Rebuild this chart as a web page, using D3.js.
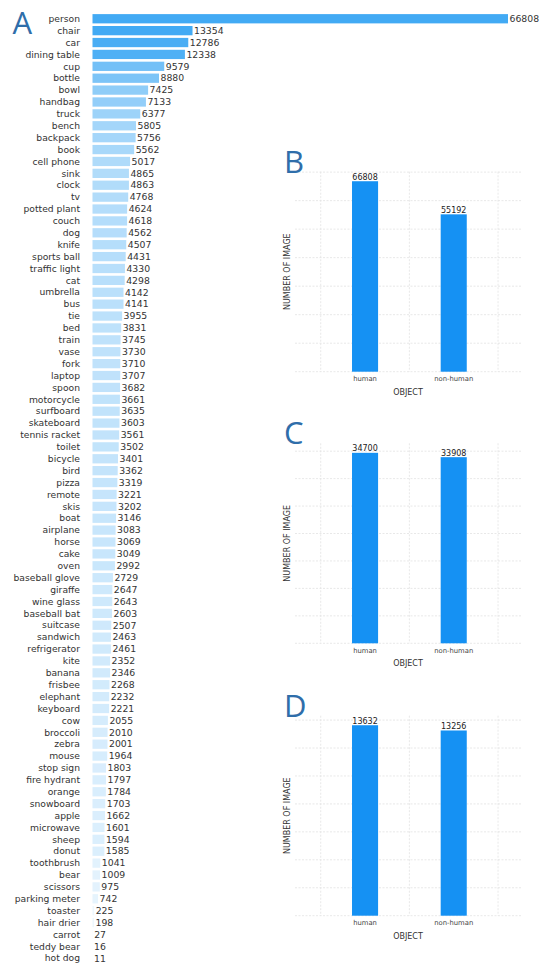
<!DOCTYPE html>
<html>
<head>
<meta charset="utf-8">
<script src="https://cdn.jsdelivr.net/npm/d3@7"></script>
<style>
  html, body { margin: 0; padding: 0; background: #fff; }
  svg { display: block; }
</style>
</head>
<body>
<svg id="chart" width="544" height="965"></svg>
<script>
// Object categories and their instance counts
const categories = ["person","chair","car","dining table","cup","bottle","bowl","handbag","truck","bench",
  "backpack","book","cell phone","sink","clock","tv","potted plant","couch","dog","knife",
  "sports ball","traffic light","cat","umbrella","bus","tie","bed","train","vase","fork",
  "laptop","spoon","motorcycle","surfboard","skateboard","tennis racket","toilet","bicycle","bird","pizza",
  "remote","skis","boat","airplane","horse","cake","oven","baseball glove","giraffe","wine glass",
  "baseball bat","suitcase","sandwich","refrigerator","kite","banana","frisbee","elephant","keyboard","cow",
  "broccoli","zebra","mouse","stop sign","fire hydrant","orange","snowboard","apple","microwave","sheep",
  "donut","toothbrush","bear","scissors","parking meter","toaster","hair drier","carrot","teddy bear","hot dog"];
const counts = [66808,13354,12786,12338,9579,8880,7425,7133,6377,5805,
  5756,5562,5017,4865,4863,4768,4624,4618,4562,4507,
  4431,4330,4298,4142,4141,3955,3831,3745,3730,3710,
  3707,3682,3661,3635,3603,3561,3502,3401,3362,3319,
  3221,3202,3146,3083,3069,3049,2992,2729,2647,2643,
  2603,2507,2463,2461,2352,2346,2268,2232,2221,2055,
  2010,2001,1964,1803,1797,1784,1703,1662,1601,1594,
  1585,1041,1009,975,742,225,198,27,16,11];

// Human / non-human image counts for the three subsets
const panelLetters = ["B","C","D"];
const groups = ["human","non-human"];
const humanCounts = [66808, 34700, 13632];
const nonHumanCounts = [55192, 33908, 13256];

const svg = d3.select("#chart");
svg.append("rect").attr("width",544).attr("height",965).attr("fill","#fff");

const letterColor = "#2f6eaa";
const fontMain = "'DejaVu Sans', sans-serif";

// ---------- Panel A: horizontal bars ----------
const gA = svg.append("g");
gA.append("text").attr("x", 12.5).attr("y", 34)
  .attr("font-family", "'Open Sans', sans-serif").attr("font-size", 31)
  .attr("fill", letterColor).text("A");

const xA = d3.scaleLinear().domain([0, 55475]).range([92.5, 508]).clamp(true);
const yA = d3.scaleBand().domain(categories).range([12.8, 964.2])
  .paddingInner(0.22).paddingOuter(0.11);
const colorA = d3.scaleLinear().domain([0, 13354])
  .range(["#f0f8fe", "#42aaf4"]).clamp(true);

const rowsA = categories.map((c, i) => ({ name: c, value: counts[i] }));

gA.selectAll("rect.barA").data(rowsA).join("rect")
  .attr("class", "barA")
  .attr("x", xA(0))
  .attr("y", d => yA(d.name))
  .attr("width", d => xA(d.value) - xA(0))
  .attr("height", yA.bandwidth())
  .attr("fill", d => colorA(d.value));

gA.selectAll("text.cat").data(rowsA).join("text")
  .attr("class", "cat")
  .attr("x", 80)
  .attr("y", d => yA(d.name) + yA.bandwidth() / 2)
  .attr("dy", "0.35em")
  .attr("text-anchor", "end")
  .attr("font-family", fontMain).attr("font-size", 9.2)
  .attr("fill", "#333").text(d => d.name);

gA.selectAll("text.val").data(rowsA).join("text")
  .attr("class", "val")
  .attr("x", d => xA(d.value) + 1.5)
  .attr("y", d => yA(d.name) + yA.bandwidth() / 2)
  .attr("dy", "0.35em")
  .attr("font-family", fontMain).attr("font-size", 9.3)
  .attr("fill", "#333").text(d => d.value);

// ---------- Panels B, C, D: vertical bars ----------
const plotLeft = 295, plotRight = 522, plotH = 200;
const plotBottoms = [371.7, 643.3, 915.7];
const xB = d3.scaleLinear().domain([-0.79, 1.77]).range([plotLeft, plotRight]);
const barHalf = 0.147;

panelLetters.forEach((letter, p) => {
  const bottom = plotBottoms[p];
  const top = bottom - plotH;
  const vals = [humanCounts[p], nonHumanCounts[p]];
  const y = d3.scaleLinear().domain([0, d3.max(vals) * 1.05]).range([bottom, top]);
  const g = svg.append("g");

  // grid
  g.selectAll("line.hg").data(y.ticks(7)).join("line")
    .attr("x1", plotLeft).attr("x2", plotRight)
    .attr("y1", d => y(d)).attr("y2", d => y(d))
    .attr("stroke", "#e2e2e2").attr("stroke-width", 0.8)
    .attr("stroke-dasharray", "2,1.5");
  g.selectAll("line.vg").data([-0.5, 0.5, 1.5]).join("line")
    .attr("x1", d => xB(d)).attr("x2", d => xB(d))
    .attr("y1", top).attr("y2", bottom)
    .attr("stroke", "#e2e2e2").attr("stroke-width", 0.8)
    .attr("stroke-dasharray", "2,1.5");

  // bars
  g.selectAll("rect.bar").data(vals).join("rect")
    .attr("x", (d, i) => xB(i - barHalf))
    .attr("width", xB(barHalf) - xB(-barHalf))
    .attr("y", d => y(d))
    .attr("height", d => bottom - y(d))
    .attr("fill", "#1591f3");

  // value labels
  g.selectAll("text.v").data(vals).join("text")
    .attr("x", (d, i) => xB(i))
    .attr("y", d => y(d) - 1.5)
    .attr("text-anchor", "middle")
    .attr("font-family", fontMain).attr("font-size", 8)
    .attr("fill", "#222").text(d => d);

  // category tick labels
  g.selectAll("text.t").data(groups).join("text")
    .attr("x", (d, i) => xB(i))
    .attr("y", bottom + 7)
    .attr("dy", "0.35em")
    .attr("text-anchor", "middle")
    .attr("font-family", fontMain).attr("font-size", 6.8)
    .attr("fill", "#444").text(d => d);

  g.append("text")
    .attr("x", (plotLeft + plotRight) / 2 - 0.5)
    .attr("y", bottom + 20).attr("dy", "0.35em")
    .attr("text-anchor", "middle")
    .attr("font-family", fontMain).attr("font-size", 8)
    .attr("fill", "#333").text("OBJECT");

  g.append("text")
    .attr("transform", `translate(286.7,${(top + bottom) / 2}) rotate(-90)`)
    .attr("dy", "0.35em")
    .attr("text-anchor", "middle")
    .attr("font-family", fontMain).attr("font-size", 8)
    .attr("fill", "#333").text("NUMBER OF IMAGE");

  g.append("text").attr("x", 284).attr("y", bottom - 199)
    .attr("font-family", "'Open Sans', sans-serif").attr("font-size", 31)
    .attr("fill", letterColor).text(letter);
});
</script>
</body>
</html>
